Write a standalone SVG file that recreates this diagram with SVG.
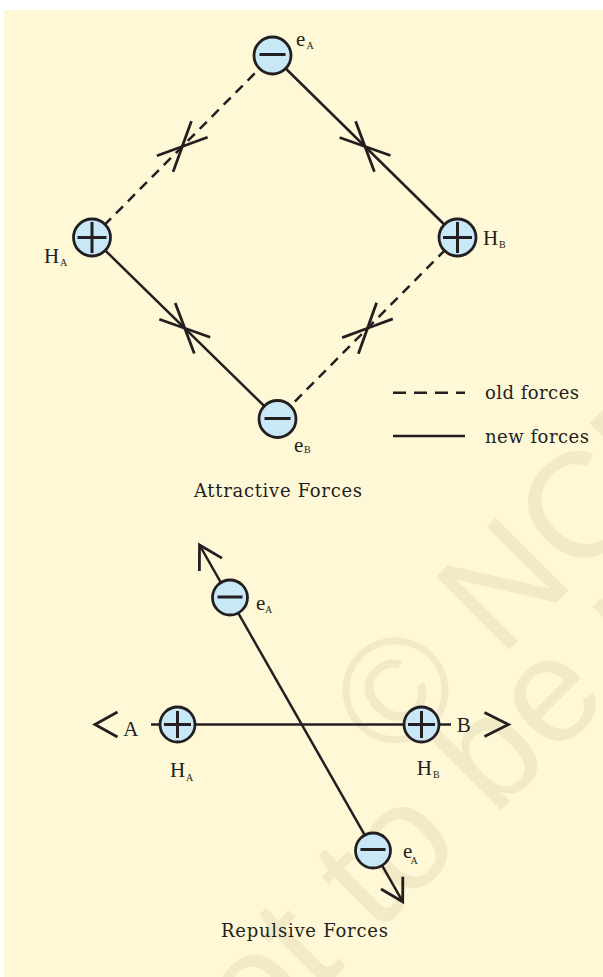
<svg xmlns="http://www.w3.org/2000/svg" width="603" height="977" viewBox="0 0 603 977">
<style>
.bg{fill:#FEF8D7}
.wm{fill:#F2EAC7;font-family:"Liberation Sans",Arial,sans-serif;font-size:150px}
.nd circle{fill:#C8E8F8;stroke:#231F20;stroke-width:2.8}
.sg{stroke:#231F20;stroke-width:3;stroke-linecap:butt}
.ln{stroke:#231F20;stroke-width:2.5;fill:none}
.dash{stroke-dasharray:10 7}
.ar{fill:none;stroke:#231F20;stroke-width:2.8;stroke-linejoin:miter}
.lb{font-family:"Liberation Serif","Times New Roman",serif;fill:#231F20;font-size:21px}
.sb{font-family:"Liberation Serif","Times New Roman",serif;fill:#231F20;font-size:10px}
.tx{font-family:"DejaVu Serif",serif;fill:#231F20;font-size:18px}
</style>
<rect width="603" height="977" fill="#FFFFFF"/>
<rect class="bg" x="4" y="10" width="599" height="967"/>
<g id="watermark">
<text class="wm" transform="translate(393,766) rotate(-45)">© NCERT</text>
<text class="wm" transform="translate(199,1112) rotate(-45)">not to be republished</text>
</g>
<g id="connectors">
<line class="ln dash" x1="92" y1="237.5" x2="272.5" y2="55.5"/>
<line class="ln" x1="272.5" y1="55.5" x2="457.5" y2="237.5"/>
<line class="ln" x1="92" y1="237.5" x2="277.5" y2="419"/>
<line class="ln dash" x1="457.5" y1="237.5" x2="277.5" y2="419"/>
<polyline class="ar" points="156.9,155.8 182.25,146.5 173.1,171.9"/>
<polyline class="ar" points="207.6,137.2 182.25,146.5 191.4,121.1"/>
<polyline class="ar" points="355.6,121.2 365,146.5 339.6,137.5"/>
<polyline class="ar" points="374.4,171.8 365,146.5 390.5,155.5"/>
<polyline class="ar" points="175.2,303 184.75,328.25 159.3,319.3"/>
<polyline class="ar" points="194.3,353.5 184.75,328.25 210.2,337.2"/>
<polyline class="ar" points="392.8,318.9 367.5,328.25 376.6,302.8"/>
<polyline class="ar" points="342.2,337.6 367.5,328.25 358.4,353.7"/>
<line class="ln" x1="151" y1="724.5" x2="451" y2="724.5"/>
<line class="ln" x1="199.5" y1="545" x2="402.7" y2="901.7"/>
<polyline class="ar" points="199.4,571 199.5,545 222,558.1"/>
<polyline class="ar" points="402.8,876.7 402.7,901.7 381,889"/>
<polyline class="ar" points="117.5,712 95,724.5 117.5,737"/>
<polyline class="ar" points="484.5,712.5 508.5,724.5 484.5,736.5"/>
</g>
<g id="top-eA" class="nd">
<circle cx="272.5" cy="55.5" r="18.5"/>
<line class="sg" x1="259.5" y1="54.5" x2="285.5" y2="54.5"/>
<text class="lb" x="296" y="45.5">e</text><text class="sb" x="306.5" y="48.5">A</text>
</g>
<g id="top-HA" class="nd">
<circle cx="92" cy="237.5" r="18.5"/>
<line class="sg" x1="77.5" y1="237.5" x2="106.5" y2="237.5"/>
<line class="sg" x1="92" y1="222" x2="92" y2="253"/>
<text class="lb" x="44" y="262.5">H</text><text class="sb" x="60" y="265.5">A</text>
</g>
<g id="top-HB" class="nd">
<circle cx="457.5" cy="237.5" r="18.5"/>
<line class="sg" x1="443" y1="237.5" x2="472" y2="237.5"/>
<line class="sg" x1="457.5" y1="222" x2="457.5" y2="253"/>
<text class="lb" x="483" y="244.5">H</text><text class="sb" x="499" y="248">B</text>
</g>
<g id="top-eB" class="nd">
<circle cx="277.5" cy="419" r="18.5"/>
<line class="sg" x1="264.5" y1="418.5" x2="290.5" y2="418.5"/>
<text class="lb" x="294" y="451.5">e</text><text class="sb" x="304" y="453">B</text>
</g>
<g id="legend">
<line class="ln" style="stroke-dasharray:13 8" x1="393" y1="392.7" x2="465" y2="392.7"/>
<line class="ln" x1="393" y1="436" x2="465" y2="436"/>
<text class="tx" x="485" y="399.3" textLength="94" lengthAdjust="spacing">old forces</text>
<text class="tx" x="485" y="442.7" textLength="104" lengthAdjust="spacing">new forces</text>
</g>
<text class="tx" x="194" y="497" textLength="168" lengthAdjust="spacing">Attractive Forces</text>
<g id="bot-eA1" class="nd">
<circle cx="230" cy="597.5" r="17.5"/>
<line class="sg" x1="217.5" y1="597" x2="242.5" y2="597"/>
<text class="lb" x="256" y="610">e</text><text class="sb" x="265" y="613.3">A</text>
</g>
<g id="bot-HA" class="nd">
<circle cx="177.5" cy="724.5" r="17.5"/>
<line class="sg" x1="164" y1="724.5" x2="191" y2="724.5"/>
<line class="sg" x1="177.5" y1="711" x2="177.5" y2="738"/>
<text class="lb" x="170" y="777.3">H</text><text class="sb" x="186" y="781">A</text>
<text class="lb" x="123.3" y="736">A</text>
</g>
<g id="bot-HB" class="nd">
<circle cx="421.5" cy="724.5" r="17.5"/>
<line class="sg" x1="408" y1="724.5" x2="435" y2="724.5"/>
<line class="sg" x1="421.5" y1="711" x2="421.5" y2="738"/>
<text class="lb" x="416.7" y="774.5">H</text><text class="sb" x="433" y="778">B</text>
<text class="lb" x="456.7" y="732.3">B</text>
</g>
<g id="bot-eA2" class="nd">
<circle cx="373" cy="850.5" r="17.5"/>
<line class="sg" x1="360.5" y1="849.5" x2="385.5" y2="849.5"/>
<text class="lb" x="403" y="858.3">e</text><text class="sb" x="410.5" y="864">A</text>
</g>
<text class="tx" x="221" y="937" textLength="167" lengthAdjust="spacing">Repulsive Forces</text>
</svg>
